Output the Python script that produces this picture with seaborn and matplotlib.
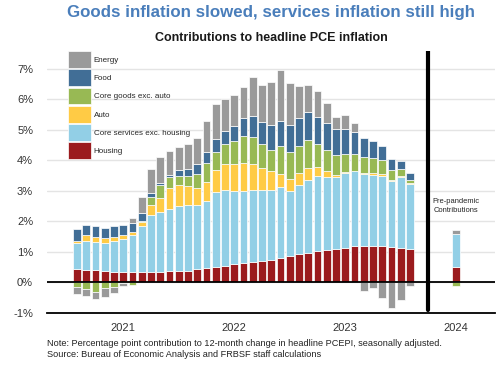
import numpy as np
import pandas as pd
import matplotlib
matplotlib.use("Agg")
import matplotlib.pyplot as plt
import seaborn as sns
from matplotlib.patches import Patch

# monthly bars, Aug 2020 - Aug 2023 (percentage point contributions)
months = pd.date_range("2020-08-01", "2023-08-01", freq="MS")

housing = [0.44, 0.41, 0.41, 0.37, 0.35, 0.34, 0.33, 0.33, 0.33, 0.33, 0.36, 0.36, 0.39,
           0.43, 0.46, 0.51, 0.55, 0.60, 0.63, 0.67, 0.70, 0.75, 0.80, 0.86, 0.92, 0.98,
           1.02, 1.05, 1.11, 1.14, 1.19, 1.19, 1.20, 1.20, 1.16, 1.13, 1.09]
core_services = [0.85, 0.96, 0.92, 0.92, 1.00, 1.08, 1.21, 1.52, 1.88, 1.97, 2.05, 2.15, 2.15,
                 2.10, 2.20, 2.44, 2.49, 2.40, 2.37, 2.35, 2.34, 2.29, 2.34, 2.14, 2.26, 2.38,
                 2.46, 2.41, 2.33, 2.45, 2.45, 2.36, 2.33, 2.27, 2.16, 2.32, 2.15]
auto = [0.07, 0.17, 0.16, 0.17, 0.14, 0.13, 0.11, 0.14, 0.33, 0.45, 0.68, 0.68, 0.63,
        0.57, 0.64, 0.72, 0.83, 0.88, 0.92, 0.86, 0.70, 0.60, 0.42, 0.38, 0.39, 0.38,
        0.29, 0.18, 0.07, 0.03, 0.01, 0.02, 0.07, 0.07, 0.03, 0.02, 0.01]
core_goods = [-0.15, -0.23, -0.32, -0.18, -0.14, -0.02, -0.09, 0.02, 0.27, 0.44, 0.35, 0.29, 0.31,
              0.44, 0.60, 0.59, 0.65, 0.74, 0.87, 0.88, 0.78, 0.71, 0.90, 0.88, 0.89, 0.94,
              0.78, 0.71, 0.65, 0.58, 0.55, 0.53, 0.48, 0.48, 0.34, 0.23, 0.11]
food = [0.38, 0.33, 0.36, 0.33, 0.37, 0.34, 0.31, 0.28, 0.11, 0.06, 0.09, 0.19, 0.22,
        0.33, 0.36, 0.43, 0.44, 0.51, 0.61, 0.69, 0.73, 0.81, 0.83, 0.89, 0.92, 0.89,
        0.88, 0.86, 0.85, 0.81, 0.73, 0.62, 0.55, 0.46, 0.36, 0.29, 0.24]
energy = [-0.23, -0.22, -0.23, -0.29, -0.19, -0.09, 0.14, 0.51, 0.79, 0.86, 0.78, 0.78, 0.85,
          0.85, 1.03, 1.16, 1.06, 1.02, 0.99, 1.29, 1.23, 1.40, 1.68, 1.38, 1.06, 0.90,
          0.85, 0.67, 0.42, 0.46, 0.30, -0.27, -0.18, -0.51, -0.84, -0.58, -0.13]

# pre-pandemic average contributions, same order as the series below
pre_pandemic = [0.52, 1.07, 0.0, -0.12, 0.0, 0.12]

series_names = ["Housing", "Core services exc. housing", "Auto",
                "Core goods exc. auto", "Food", "Energy"]
colors = ["#9b1b1e", "#92cfe6", "#ffcb45", "#98b954", "#416e96", "#9a9a9a"]

year_ticks = [5, 17, 29, 41]
year_labels = ["2021", "2022", "2023", "2024"]
pre_x = 41
divider_x = 38

# long table, x = month index since Aug 2020
rows = []
all_series = [housing, core_services, auto, core_goods, food, energy]
for name, vals in zip(series_names, all_series):
    for i, v in enumerate(vals):
        rows.append({"x": i, "series": name, "value": v})
for name, v in zip(series_names, pre_pandemic):
    rows.append({"x": pre_x, "series": name, "value": v})
df = pd.DataFrame(rows)

# stack positives up and negatives down, in series order
df["bottom"] = 0.0
pos = {}
neg = {}
for name in series_names:
    idx = df.index[df.series == name]
    for j in idx:
        x, v = df.at[j, "x"], df.at[j, "value"]
        if v >= 0:
            df.at[j, "bottom"] = pos.get(x, 0.0)
            pos[x] = pos.get(x, 0.0) + v
        else:
            df.at[j, "bottom"] = neg.get(x, 0.0)
            neg[x] = neg.get(x, 0.0) + v

sns.set_style("white")
plt.rcParams["font.family"] = ["Liberation Sans", "DejaVu Sans"]

fig = plt.figure(figsize=(5, 3.65), dpi=100)
ax = fig.add_axes([0.094, 0.1425, 0.896, 0.7178])

for name, c in zip(series_names, colors):
    sub = df[(df.series == name) & (df.value != 0)].sort_values("x")
    sns.barplot(data=sub, x="x", y="value", native_scale=True, color=c,
                width=0.84, errorbar=None, bottom=sub["bottom"].values,
                edgecolor="white", linewidth=0.5, saturation=1, ax=ax)

ax.set_xlim(-3.24, 45.2)
ax.set_ylim(-1, 7.58)
ax.set_yticks(range(-1, 8))
ax.set_yticklabels([f"{t}%" for t in range(-1, 8)])
ax.set_xticks(year_ticks)
ax.set_xticklabels(year_labels)
ax.set_xlabel("")
ax.set_ylabel("")
ax.grid(axis="y", color="#e4e4e4", linewidth=1)
ax.set_axisbelow(True)
for s in ["top", "right", "left"]:
    ax.spines[s].set_visible(False)
ax.spines["bottom"].set_color("black")
ax.spines["bottom"].set_linewidth(1.3)
ax.tick_params(axis="y", length=0, pad=10, labelsize=8, labelcolor="#333333")
ax.tick_params(axis="x", length=4, width=0.8, color="black", direction="out",
               pad=3, labelsize=8, labelcolor="#333333")

ax.axhline(0, color="black", linewidth=1.3, zorder=5)
ax.axvline(divider_x, ymin=0.01, ymax=1, color="black", linewidth=3, zorder=6)

ax.text(pre_x, 2.5, "Pre-pandemic\nContributions", ha="center", va="center",
        fontsize=5.4, color="#222222", linespacing=1.5)

handles = [Patch(facecolor=c, edgecolor="white", linewidth=0.5)
           for c in colors[::-1]]
ax.legend(handles, series_names[::-1], loc="upper left",
          bbox_to_anchor=(0.047, 1.0), frameon=False, fontsize=5.8,
          handlelength=2.8, handleheight=2.81, labelspacing=0.2,
          handletextpad=0.4, borderpad=0, borderaxespad=0)

fig.text(0.542, 0.967, "Goods inflation slowed, services inflation still high",
         ha="center", va="center", fontsize=12.2, fontweight="bold", color="#4a7ebb")
fig.text(0.542, 0.896, "Contributions to headline PCE inflation",
         ha="center", va="center", fontsize=9, fontweight="bold", color="#1a1a1a")
fig.text(0.094, 0.06,
         "Note: Percentage point contribution to 12-month change in headline PCEPI, seasonally adjusted.",
         ha="left", va="center", fontsize=6.6, color="#222222")
fig.text(0.094, 0.03, "Source: Bureau of Economic Analysis and FRBSF staff calculations",
         ha="left", va="center", fontsize=6.6, color="#222222")

fig.savefig("out.png", dpi=100)
